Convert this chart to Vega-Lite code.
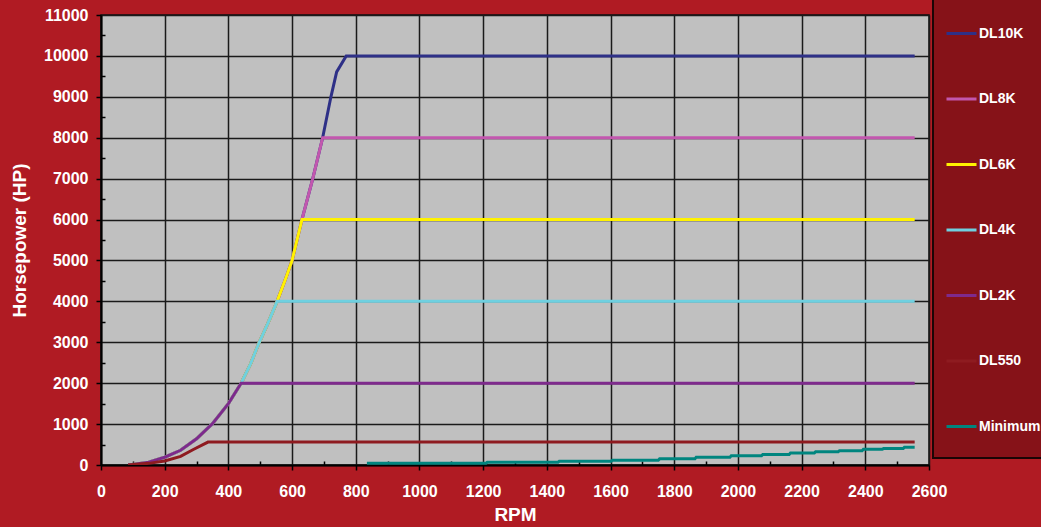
{
  "$schema": "https://vega.github.io/schema/vega-lite/v6.json",
  "autosize": {"type": "none"},
  "padding": {"left": 101, "top": 15, "right": 112, "bottom": 62},
  "width": 828,
  "height": 450,
  "background": "#B01B23",
  "config": {
    "font": "Liberation Sans",
    "view": {"fill": "#C0C0C0", "stroke": "#111111", "strokeWidth": 1.5},
    "axis": {
      "domainColor": "#000000",
      "domainWidth": 2,
      "tickColor": "#000000",
      "tickWidth": 1.5,
      "gridColor": "#1a1a1a",
      "gridWidth": 1.5,
      "labelColor": "#FFFFFF",
      "labelFont": "Liberation Sans",
      "labelFontWeight": "bold",
      "labelFontSize": 16,
      "titleColor": "#FFFFFF",
      "titleFont": "Liberation Sans",
      "titleFontWeight": "bold",
      "titleFontSize": 19
    },
    "legend": {
      "fillColor": "#861218",
      "strokeColor": "#1a0505",
      "strokeWidth": 2
    }
  },
  "data": {
    "values": [
      {"s": "DL10K", "rpm": 85, "hp": 0}, {"s": "DL10K", "rpm": 100, "hp": 12}, {"s": "DL10K", "rpm": 150, "hp": 70}, {"s": "DL10K", "rpm": 200, "hp": 190}, {"s": "DL10K", "rpm": 250, "hp": 360}, {"s": "DL10K", "rpm": 300, "hp": 640}, {"s": "DL10K", "rpm": 350, "hp": 1010}, {"s": "DL10K", "rpm": 400, "hp": 1500}, {"s": "DL10K", "rpm": 440, "hp": 2000}, {"s": "DL10K", "rpm": 470, "hp": 2480}, {"s": "DL10K", "rpm": 497, "hp": 3000}, {"s": "DL10K", "rpm": 525, "hp": 3480}, {"s": "DL10K", "rpm": 553, "hp": 4000}, {"s": "DL10K", "rpm": 580, "hp": 4560}, {"s": "DL10K", "rpm": 600, "hp": 5000}, {"s": "DL10K", "rpm": 631, "hp": 6000}, {"s": "DL10K", "rpm": 665, "hp": 7000}, {"s": "DL10K", "rpm": 696, "hp": 8000}, {"s": "DL10K", "rpm": 722, "hp": 9000}, {"s": "DL10K", "rpm": 740, "hp": 9610}, {"s": "DL10K", "rpm": 770, "hp": 10000}, {"s": "DL10K", "rpm": 2555, "hp": 10000},
      {"s": "DL8K", "rpm": 85, "hp": 0}, {"s": "DL8K", "rpm": 100, "hp": 12}, {"s": "DL8K", "rpm": 150, "hp": 70}, {"s": "DL8K", "rpm": 200, "hp": 190}, {"s": "DL8K", "rpm": 250, "hp": 360}, {"s": "DL8K", "rpm": 300, "hp": 640}, {"s": "DL8K", "rpm": 350, "hp": 1010}, {"s": "DL8K", "rpm": 400, "hp": 1500}, {"s": "DL8K", "rpm": 440, "hp": 2000}, {"s": "DL8K", "rpm": 470, "hp": 2480}, {"s": "DL8K", "rpm": 497, "hp": 3000}, {"s": "DL8K", "rpm": 525, "hp": 3480}, {"s": "DL8K", "rpm": 553, "hp": 4000}, {"s": "DL8K", "rpm": 580, "hp": 4560}, {"s": "DL8K", "rpm": 600, "hp": 5000}, {"s": "DL8K", "rpm": 631, "hp": 6000}, {"s": "DL8K", "rpm": 665, "hp": 7000}, {"s": "DL8K", "rpm": 696, "hp": 8000}, {"s": "DL8K", "rpm": 2555, "hp": 8000},
      {"s": "DL6K", "rpm": 85, "hp": 0}, {"s": "DL6K", "rpm": 100, "hp": 12}, {"s": "DL6K", "rpm": 150, "hp": 70}, {"s": "DL6K", "rpm": 200, "hp": 190}, {"s": "DL6K", "rpm": 250, "hp": 360}, {"s": "DL6K", "rpm": 300, "hp": 640}, {"s": "DL6K", "rpm": 350, "hp": 1010}, {"s": "DL6K", "rpm": 400, "hp": 1500}, {"s": "DL6K", "rpm": 440, "hp": 2000}, {"s": "DL6K", "rpm": 470, "hp": 2480}, {"s": "DL6K", "rpm": 497, "hp": 3000}, {"s": "DL6K", "rpm": 525, "hp": 3480}, {"s": "DL6K", "rpm": 553, "hp": 4000}, {"s": "DL6K", "rpm": 580, "hp": 4560}, {"s": "DL6K", "rpm": 600, "hp": 5000}, {"s": "DL6K", "rpm": 631, "hp": 6000}, {"s": "DL6K", "rpm": 2555, "hp": 6000},
      {"s": "DL4K", "rpm": 85, "hp": 0}, {"s": "DL4K", "rpm": 100, "hp": 12}, {"s": "DL4K", "rpm": 150, "hp": 70}, {"s": "DL4K", "rpm": 200, "hp": 190}, {"s": "DL4K", "rpm": 250, "hp": 360}, {"s": "DL4K", "rpm": 300, "hp": 640}, {"s": "DL4K", "rpm": 350, "hp": 1010}, {"s": "DL4K", "rpm": 400, "hp": 1500}, {"s": "DL4K", "rpm": 440, "hp": 2000}, {"s": "DL4K", "rpm": 470, "hp": 2480}, {"s": "DL4K", "rpm": 497, "hp": 3000}, {"s": "DL4K", "rpm": 525, "hp": 3480}, {"s": "DL4K", "rpm": 553, "hp": 4000}, {"s": "DL4K", "rpm": 2555, "hp": 4000},
      {"s": "DL2K", "rpm": 85, "hp": 0}, {"s": "DL2K", "rpm": 100, "hp": 12}, {"s": "DL2K", "rpm": 150, "hp": 70}, {"s": "DL2K", "rpm": 200, "hp": 190}, {"s": "DL2K", "rpm": 250, "hp": 360}, {"s": "DL2K", "rpm": 300, "hp": 640}, {"s": "DL2K", "rpm": 350, "hp": 1010}, {"s": "DL2K", "rpm": 400, "hp": 1500}, {"s": "DL2K", "rpm": 440, "hp": 2000}, {"s": "DL2K", "rpm": 2555, "hp": 2000},
      {"s": "DL550", "rpm": 85, "hp": 0}, {"s": "DL550", "rpm": 150, "hp": 40}, {"s": "DL550", "rpm": 200, "hp": 100}, {"s": "DL550", "rpm": 250, "hp": 210}, {"s": "DL550", "rpm": 290, "hp": 380}, {"s": "DL550", "rpm": 336, "hp": 560}, {"s": "DL550", "rpm": 2555, "hp": 560},
      {"s": "Minimum", "rpm": 835, "hp": 42}, {"s": "Minimum", "rpm": 1209, "hp": 42}, {"s": "Minimum", "rpm": 1213, "hp": 67}, {"s": "Minimum", "rpm": 1435, "hp": 67}, {"s": "Minimum", "rpm": 1439, "hp": 92}, {"s": "Minimum", "rpm": 1602, "hp": 92}, {"s": "Minimum", "rpm": 1606, "hp": 118}, {"s": "Minimum", "rpm": 1750, "hp": 118}, {"s": "Minimum", "rpm": 1754, "hp": 150}, {"s": "Minimum", "rpm": 1865, "hp": 150}, {"s": "Minimum", "rpm": 1869, "hp": 192}, {"s": "Minimum", "rpm": 1975, "hp": 192}, {"s": "Minimum", "rpm": 1979, "hp": 226}, {"s": "Minimum", "rpm": 2074, "hp": 226}, {"s": "Minimum", "rpm": 2078, "hp": 259}, {"s": "Minimum", "rpm": 2161, "hp": 259}, {"s": "Minimum", "rpm": 2165, "hp": 293}, {"s": "Minimum", "rpm": 2240, "hp": 293}, {"s": "Minimum", "rpm": 2244, "hp": 326}, {"s": "Minimum", "rpm": 2315, "hp": 326}, {"s": "Minimum", "rpm": 2319, "hp": 351}, {"s": "Minimum", "rpm": 2390, "hp": 351}, {"s": "Minimum", "rpm": 2394, "hp": 385}, {"s": "Minimum", "rpm": 2453, "hp": 385}, {"s": "Minimum", "rpm": 2457, "hp": 401}, {"s": "Minimum", "rpm": 2519, "hp": 401}, {"s": "Minimum", "rpm": 2523, "hp": 435}, {"s": "Minimum", "rpm": 2555, "hp": 435}
    ]
  },
  "mark": {"type": "line", "strokeWidth": 3, "clip": true},
  "encoding": {
    "x": {
      "field": "rpm",
      "type": "quantitative",
      "scale": {"domain": [0, 2600], "nice": false},
      "axis": {
        "title": "RPM",
        "values": [0, 100, 200, 300, 400, 500, 600, 700, 800, 900, 1000, 1100, 1200, 1300, 1400, 1500, 1600, 1700, 1800, 1900, 2000, 2100, 2200, 2300, 2400, 2500, 2600],
        "labelExpr": "datum.value % 200 === 0 ? datum.label : ''",
        "format": "d",
        "tickSize": {"condition": {"test": "datum.value % 200 === 0", "value": 5}, "value": -4},
        "gridOpacity": {"condition": {"test": "datum.value % 200 === 0", "value": 1}, "value": 0},
        "labelPadding": 13,
        "titlePadding": 6,
        "labelFlush": false,
        "labelOverlap": false
      }
    },
    "y": {
      "field": "hp",
      "type": "quantitative",
      "scale": {"domain": [0, 11000], "nice": false},
      "axis": {
        "title": "Horsepower (HP)",
        "values": [0, 500, 1000, 1500, 2000, 2500, 3000, 3500, 4000, 4500, 5000, 5500, 6000, 6500, 7000, 7500, 8000, 8500, 9000, 9500, 10000, 10500, 11000],
        "labelExpr": "datum.value % 1000 === 0 ? datum.label : ''",
        "format": "d",
        "tickSize": {"condition": {"test": "datum.value % 1000 === 0", "value": 5}, "value": -4},
        "gridOpacity": {"condition": {"test": "datum.value % 1000 === 0", "value": 1}, "value": 0},
        "labelPadding": 8,
        "titlePadding": 14,
        "labelFlush": false,
        "labelOverlap": false
      }
    },
    "color": {
      "field": "s",
      "type": "nominal",
      "scale": {
        "domain": ["DL10K", "DL8K", "DL6K", "DL4K", "DL2K", "DL550", "Minimum"],
        "range": ["#2E3087", "#C257AE", "#FFF200", "#6FD0E0", "#7E2A8C", "#8E1B20", "#00857F"]
      },
      "legend": {
        "title": null,
        "orient": "none",
        "legendX": 832,
        "legendY": -22,
        "padding": 24,
        "symbolType": "stroke",
        "symbolSize": 900,
        "symbolStrokeWidth": 3,
        "symbolOffset": -12,
        "labelOffset": 1,
        "labelColor": "#FFFFFF",
        "labelFont": "Liberation Sans",
        "labelFontWeight": "bold",
        "labelFontSize": 14,
        "rowPadding": 41.5
      }
    }
  }
}
